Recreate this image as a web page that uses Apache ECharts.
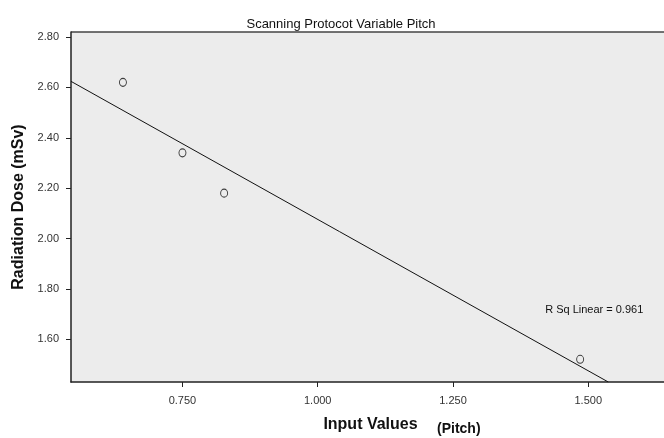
<!DOCTYPE html>
<html><head><meta charset="utf-8">
<script src="https://cdn.jsdelivr.net/npm/echarts@6/dist/echarts.min.js"></script>
<style>html,body{margin:0;padding:0;background:#fff}#c{width:664px;height:438px}</style>
</head><body><div id="c"></div>
<script>
const pitch = [0.640, 0.750, 0.827, 1.485];
const dose = [2.62, 2.34, 2.18, 1.52];
const fitPitch = [0.544, 1.537];
const fitDose = [2.624, 1.430];
const xTicks = [0.75, 1.0, 1.25, 1.5];
const yTicks = [1.6, 1.8, 2.0, 2.2, 2.4, 2.6, 2.8];
const titleText = 'Scanning Protocot Variable Pitch';
const rsqText = 'R Sq Linear = 0.961';

const chart = echarts.init(document.getElementById('c'), null, {renderer: 'canvas'});
const F = 'Liberation Sans, Arial, sans-serif';
chart.setOption({
  animation: false,
  backgroundColor: '#ffffff',
  title: {
    text: titleText, left: 336, top: 13, textAlign: 'center',
    textStyle: {fontFamily: F, fontSize: 13, fontWeight: 'normal', color: '#111'}
  },
  grid: {left: 71, top: 32, right: -3, bottom: 54, show: true, backgroundColor: '#ececec', borderWidth: 0},
  xAxis: {
    type: 'value', min: 0.544, max: 1.64,
    axisLine: {show: true, onZero: false, lineStyle: {color: '#222', width: 1.5}},
    axisTick: {show: true, length: 5, customValues: xTicks, lineStyle: {color: '#222'}},
    axisLabel: {customValues: xTicks, formatter: v => v.toFixed(3), fontFamily: F, fontSize: 11, color: '#333', margin: 13},
    splitLine: {show: false},
    name: 'Input Values', nameLocation: 'middle', nameGap: 35,
    nameTextStyle: {fontFamily: F, fontSize: 16, fontWeight: 'bold', color: '#111', padding: [0, 0, 0, 6]}
  },
  yAxis: {
    type: 'value', min: 1.43, max: 2.82,
    axisLine: {show: true, onZero: false, lineStyle: {color: '#222', width: 1.5}},
    axisTick: {show: true, length: 5, customValues: yTicks, lineStyle: {color: '#222'}},
    axisLabel: {customValues: yTicks, formatter: v => v.toFixed(2), fontFamily: F, fontSize: 11, color: '#333', margin: 12},
    splitLine: {show: false},
    name: 'Radiation Dose (mSv)', nameLocation: 'middle', nameGap: 44,
    nameTextStyle: {fontFamily: F, fontSize: 16, fontWeight: 'bold', color: '#111'}
  },
  graphic: [
    {type: 'line', shape: {x1: 71, y1: 32, x2: 664, y2: 32}, style: {stroke: '#444', lineWidth: 1.5}, silent: true},
    {type: 'text', left: 437, top: 422, style: {text: '(Pitch)', font: 'bold 14px Liberation Sans, Arial, sans-serif', fill: '#111'}}
  ],
  series: [
    {
      type: 'line', data: fitPitch.map((x, i) => [x, fitDose[i]]),
      symbol: 'none', lineStyle: {color: '#111', width: 1}, z: 2,
      markPoint: {
        symbol: 'circle', symbolSize: 0,
        label: {show: true, formatter: rsqText, fontFamily: F, fontSize: 11, color: '#111', position: 'inside'},
        data: [{coord: [1.511, 1.715]}]
      }
    },
    {
      type: 'scatter', data: pitch.map((x, i) => [x, dose[i]]),
      symbol: 'circle', symbolSize: [7, 8],
      itemStyle: {color: '#ececec', borderColor: '#111', borderWidth: 1}, z: 3
    }
  ]
});
</script></body></html>
